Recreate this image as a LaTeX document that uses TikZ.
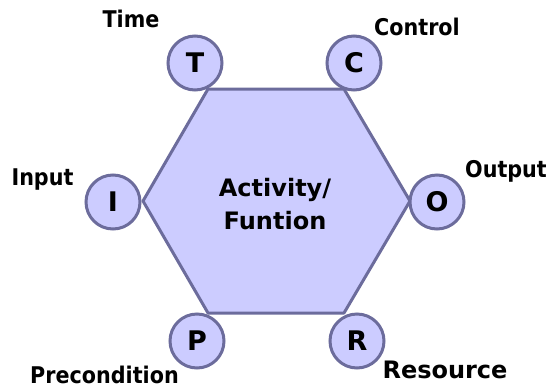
\documentclass[tikz,border=0pt]{standalone}
\usepackage{fontspec}
\setmainfont{DejaVu Sans}
\newfontfamily\tagfont{DejaVu Sans}[FakeStretch=0.9]

\begin{document}
\begin{tikzpicture}[x=1pt,y=-1pt,
	port/.style={circle,draw=edgecol,fill=fillcol,line width=3pt,minimum size=54pt,inner sep=0pt,font=\fontsize{27}{27}\selectfont\bfseries},
	tag/.style={anchor=base,inner sep=0pt,font=\tagfont\fontsize{23}{23}\selectfont\bfseries}]
	\definecolor{fillcol}{HTML}{CCCCFF}
	\definecolor{edgecol}{HTML}{6C6C9C}
	\useasboundingbox (0,0) rectangle (546,389);
	%% Hexagon ------
	\coordinate (hl) at (143,201);
	\coordinate (htl) at (208,89);
	\coordinate (htr) at (344,89);
	\coordinate (hr) at (410,201);
	\coordinate (hbr) at (344,313);
	\coordinate (hbl) at (208,313);
	\draw[draw=edgecol,fill=fillcol,line width=3pt,line join=round] (hl) -- (htl) -- (htr) -- (hr) -- (hbr) -- (hbl) -- cycle;
	\node[align=center,font=\fontsize{24}{33}\selectfont\bfseries] (act) at (275,204) {Activity/\\Funtion};
	%% Ports ---------
	\node[port] (t) at (195,63) {T};
	\node[port] (c) at (354,63) {C};
	\node[port] (i) at (113,202) {I};
	\node[port] (o) at (437,202) {O};
	\node[port] (p) at (197,341) {P};
	\node[port] (r) at (357,341) {R};
	%% Labels --------
	\node[tag] (time) at (131,27) {Time};
	\node[tag] (control) at (417,35) {Control};
	\node[tag] (input) at (42.5,185) {Input};
	\node[tag] (output) at (506,177) {Output};
	\node[tag] (precondition) at (104.5,383) {Precondition};
	\node[tag,font=\fontsize{24}{24}\selectfont\bfseries] (resource) at (445,378) {Resource};
\end{tikzpicture}
\end{document}
